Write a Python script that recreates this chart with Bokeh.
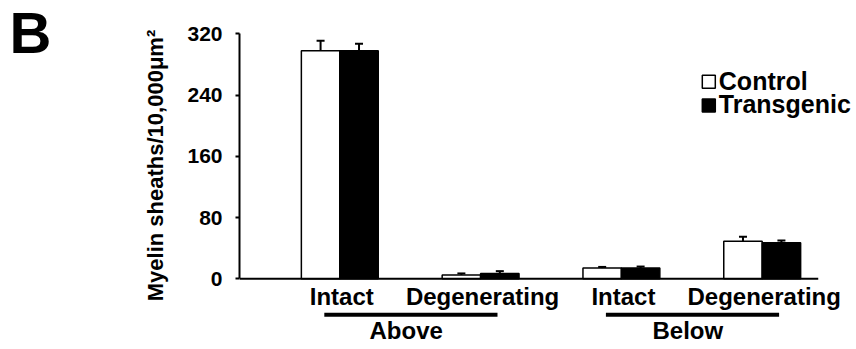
import numpy as np
from bokeh.plotting import figure
from bokeh.layouts import row
from bokeh.models import Range1d, FixedTicker
from bokeh.core.properties import value
from bokeh.embed import file_html
from bokeh.resources import INLINE

# ---- data ----
categories = ["Intact", "Degenerating", "Intact", "Degenerating"]
regions = ["Above", "Below"]
region_index = [0, 0, 1, 1]
series = ["Control", "Transgenic"]
control = [298, 5, 14, 49]
control_err = [13, 2, 1.5, 6]
transgenic = [298, 7, 14, 47]
transgenic_err = [9, 3, 2, 3]
y_ticks = [0, 80, 160, 240, 320]
y_label = "Myelin sheaths/10,000\u03bcm\u00b2"
panel_letter = "B"

FONT = value("Liberation Sans")

# ---- geometry ----
W, H = 856, 349
LEFT_W = 179            # width of the left strip holding panel letter + y title
pos = np.arange(1, len(categories) + 1, dtype=float)
bw = 0.273
px_x = 140.8            # pixels per x unit
px_y = 245.0 / 320.0    # pixels per y unit

# ---- left strip: panel letter and y-axis title ----
left = figure(width=LEFT_W, height=H, output_backend="svg", toolbar_location=None,
              x_range=Range1d(0, LEFT_W), y_range=Range1d(H, 0),
              x_axis_location=None, y_axis_location=None,
              min_border_left=0, min_border_right=0, min_border_top=0, min_border_bottom=0)
left.outline_line_color = None
left.grid.visible = False
left.text(x=[9], y=[32], text=[panel_letter], text_font=FONT, text_font_style="bold",
          text_font_size="58px", text_align="left", text_baseline="middle",
          text_color="black")
left.text(x=[155], y=[165], text=[y_label], angle=90, angle_units="deg",
          text_font=FONT, text_font_style="bold", text_font_size="22px",
          text_align="center", text_baseline="middle", text_color="black")

# ---- main plot ----
MAIN_W = W - LEFT_W
x0_px = 239 - LEFT_W          # frame left inside main figure
p = figure(width=MAIN_W, height=H, output_backend="svg", toolbar_location=None,
           x_range=Range1d(1 + (239 - 339.3) / px_x, 1 + (W - 339.3) / px_x),
           y_range=Range1d((278.3 - H) / px_y, 278.3 / px_y),
           x_axis_location=None, min_border_left=x0_px, min_border_right=0,
           min_border_top=0, min_border_bottom=0)
p.outline_line_color = None
p.grid.visible = False

yax = p.yaxis[0]
yax.ticker = FixedTicker(ticks=y_ticks)
yax.bounds = (y_ticks[0], y_ticks[-1])
yax.major_tick_in = 0
yax.major_tick_out = 4
yax.minor_tick_in = 0
yax.minor_tick_out = 0
yax.axis_line_width = 2
yax.axis_line_color = "black"
yax.major_tick_line_width = 2
yax.major_tick_line_color = "black"
yax.major_label_text_font = "Liberation Sans"
yax.major_label_text_font_style = "bold"
yax.major_label_text_font_size = "21px"
yax.major_label_text_color = "black"
yax.major_label_standoff = 13

# bars
xc = pos - bw / 2
xt = pos + bw / 2
p.vbar(x=xc, top=control, width=bw, bottom=0, fill_color="white",
       line_color="black", line_width=1.5)
p.vbar(x=xt, top=transgenic, width=bw, bottom=0, fill_color="black",
       line_color="black", line_width=1.5)

# error bars (upper only)
cap = 4.0 / px_x
for xs, tops, errs in ((xc, control, control_err), (xt, transgenic, transgenic_err)):
    tops = np.array(tops, dtype=float)
    ends = tops + np.array(errs, dtype=float)
    p.segment(x0=xs, y0=tops, x1=xs, y1=ends, line_color="black", line_width=2)
    p.segment(x0=xs - cap, y0=ends, x1=xs + cap, y1=ends, line_color="black", line_width=2)

# x axis baseline
x_end = pos[-1] + bw + 0.125
p.segment(x0=[p.x_range.start], y0=[0], x1=[x_end], y1=[0], line_color="black", line_width=2)

# category labels
p.text(x=pos + 2.0 / px_x, y=[0] * len(categories), text=categories, text_font=FONT,
       text_font_style="bold", text_font_size="24px", text_align="center",
       text_baseline="middle", y_offset=18, text_color="black")

# region underlines and labels
for ri, rname in enumerate(regions):
    idx = [i for i, r in enumerate(region_index) if r == ri]
    xa = pos[idx[0]] - 0.11
    xb = pos[idx[-1]] + 0.12
    yl = -36.0 / px_y
    p.segment(x0=[xa], y0=[yl], x1=[xb], y1=[yl], line_color="black", line_width=4)
    p.text(x=[(pos[idx[0]] + pos[idx[-1]]) / 2 - 4.0 / px_x], y=[0], text=[rname],
           text_font=FONT, text_font_style="bold", text_font_size="24px",
           text_align="center", text_baseline="middle", y_offset=52,
           text_color="black")

# legend (custom)
lx = 1 + (708.3 - 339.3) / px_x
ly = [257.4, 226.4]
p.scatter(x=[lx, lx], y=ly, marker="square", size=13,
          fill_color=["white", "black"], line_color="black", line_width=1.5)
p.text(x=[lx + 10.0 / px_x] * 2, y=ly, text=series, text_font=FONT,
       text_font_style="bold", text_font_size="25px", text_align="left",
       text_baseline="middle", text_color="black", y_offset=-1)

layout = row(left, p, spacing=0)
open("out.html", "w").write(file_html(layout, INLINE))
